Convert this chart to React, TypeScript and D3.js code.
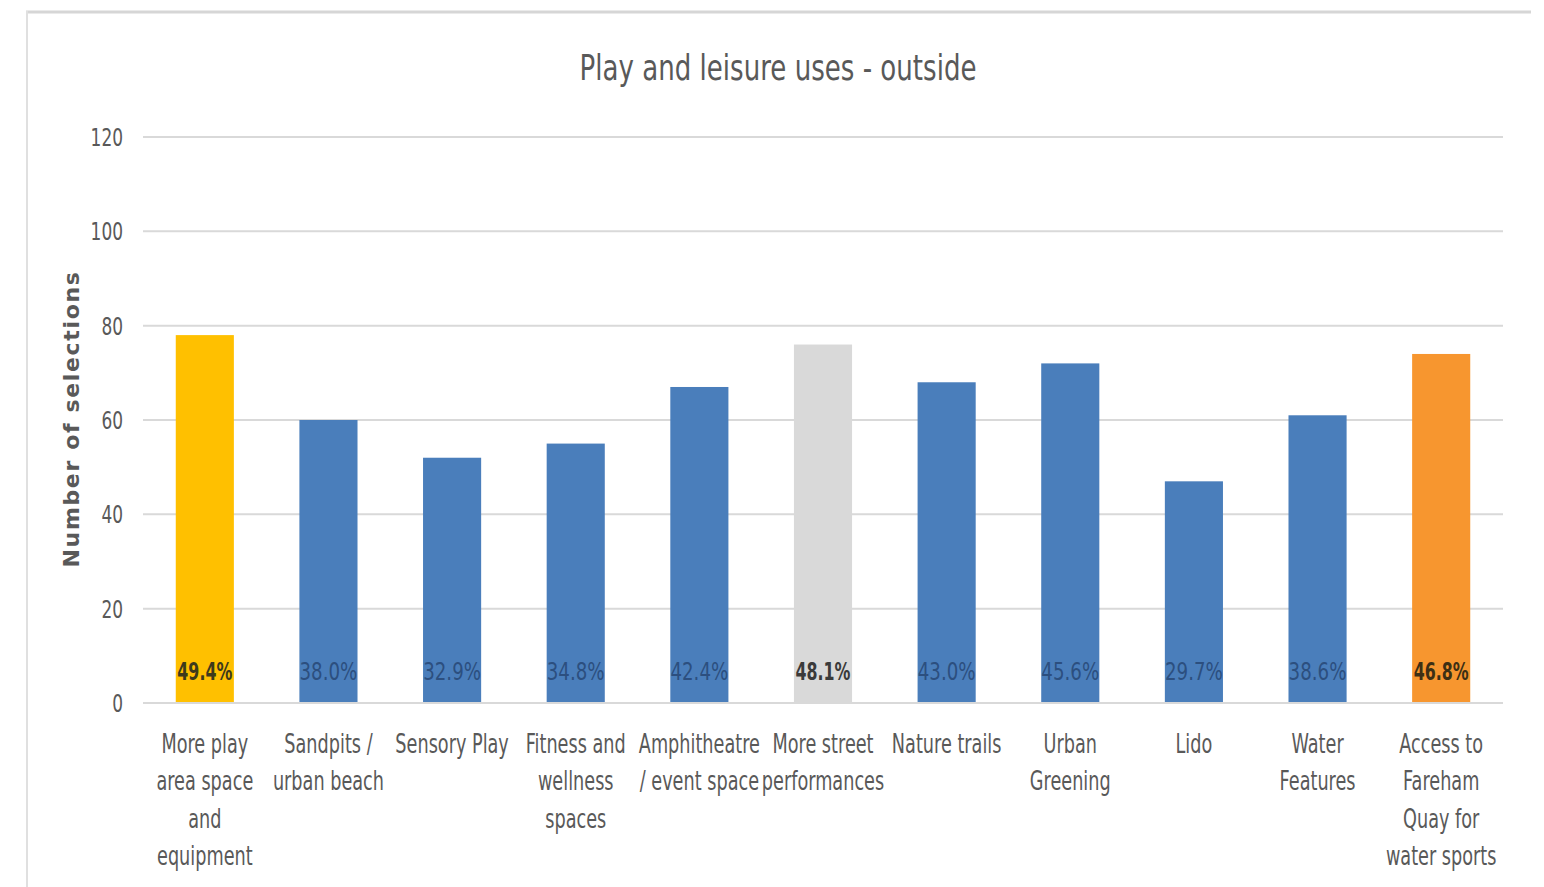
import React from "react";
import * as d3 from "d3";

const categories: string[][] = [
  ["More play", "area space", "and", "equipment"],
  ["Sandpits /", "urban beach"],
  ["Sensory Play"],
  ["Fitness and", "wellness", "spaces"],
  ["Amphitheatre", "/ event space"],
  ["More street", "performances"],
  ["Nature trails"],
  ["Urban", "Greening"],
  ["Lido"],
  ["Water", "Features"],
  ["Access to", "Fareham", "Quay for", "water sports"],
];
const selections: number[] = [78, 60, 52, 55, 67, 76, 68, 72, 47, 61, 74];
const shares: string[] = ["49.4%", "38.0%", "32.9%", "34.8%", "42.4%", "48.1%", "43.0%", "45.6%", "29.7%", "38.6%", "46.8%"];
const barColors: string[] = ["#FFC000", "#4A7EBB", "#4A7EBB", "#4A7EBB", "#4A7EBB", "#D9D9D9", "#4A7EBB", "#4A7EBB", "#4A7EBB", "#4A7EBB", "#F7962F"];
const labelColors: string[] = ["#3d3a1c", "#2c4f7f", "#2c4f7f", "#2c4f7f", "#2c4f7f", "#3a3a3a", "#2c4f7f", "#2c4f7f", "#2c4f7f", "#2c4f7f", "#3d2f14"];
const boldLabel: boolean[] = [true, false, false, false, false, true, false, false, false, false, true];
const yTicks: number[] = [0, 20, 40, 60, 80, 100, 120];

const W = 1544;
const H = 887;
const left = 143;
const right = 1503;
const top = 137;
const bottom = 703;
const face = "'DejaVu Sans', sans-serif";

// Text squeezed horizontally to get a narrow face from a regular one.
function Narrow(props: {
  x: number;
  y: number;
  sx: number;
  size: number;
  anchor?: string;
  weight?: number;
  fill: string;
  children: React.ReactNode;
}) {
  const { x, y, sx, size, anchor = "middle", weight = 400, fill, children } = props;
  return (
    <g transform={`translate(${x},${y}) scale(${sx},1)`}>
      <text x={0} y={0} textAnchor={anchor} fontFamily={face} fontSize={size} fontWeight={weight} fill={fill}>
        {children}
      </text>
    </g>
  );
}

export default function App() {
  const x = d3.scaleBand<number>().domain(d3.range(categories.length)).range([left, right]).paddingInner(0.53).paddingOuter(0.265);
  const y = d3.scaleLinear().domain([0, 120]).range([bottom, top]);
  const cx = (i: number) => (x(i) as number) + x.bandwidth() / 2;

  return (
    <svg width={W} height={H} style={{ position: "absolute", left: 0, top: 0, background: "#fff" }}>
      <rect x={0} y={0} width={W} height={H} fill="#fff" />
      {/* chart frame */}
      <line x1={26} y1={12} x2={1531} y2={12} stroke="#d6d6d6" strokeWidth={3} />
      <line x1={27} y1={11} x2={27} y2={H} stroke="#e0e0e0" strokeWidth={2} />

      <Narrow x={778} y={80} sx={0.745} size={35} fill="#595959">
        Play and leisure uses - outside
      </Narrow>

      {yTicks.map((t) => (
        <g key={t}>
          <line x1={left} x2={right} y1={y(t)} y2={y(t)} stroke="#d9d9d9" strokeWidth={2} />
          <Narrow x={123} y={y(t) + 9} sx={0.68} size={25} anchor="end" fill="#595959">
            {t}
          </Narrow>
        </g>
      ))}

      <text
        transform={`translate(79, 419) rotate(-90)`}
        textAnchor="middle"
        fontFamily={face}
        fontWeight={700}
        fontSize={22}
        letterSpacing={1.65}
        fill="#595959"
      >
        Number of selections
      </text>

      {selections.map((v, i) => (
        <rect key={i} x={x(i)} y={y(v)} width={x.bandwidth()} height={y(0) - y(v)} fill={barColors[i]} />
      ))}
      <line x1={left} x2={right} y1={y(0)} y2={y(0)} stroke="#d9d9d9" strokeWidth={2} />

      {selections.map((v, i) => (
        <Narrow
          key={i}
          x={cx(i)}
          y={680}
          sx={boldLabel[i] ? 0.66 : 0.76}
          size={24}
          weight={boldLabel[i] ? 700 : 400}
          fill={labelColors[i]}
        >
          {shares[i]}
        </Narrow>
      ))}

      {categories.map((lines, i) =>
        lines.map((ln, j) => (
          <Narrow key={`${i}-${j}`} x={cx(i)} y={753 + j * 37.4} sx={0.68} size={26} fill="#595959">
            {ln}
          </Narrow>
        ))
      )}
    </svg>
  );
}
